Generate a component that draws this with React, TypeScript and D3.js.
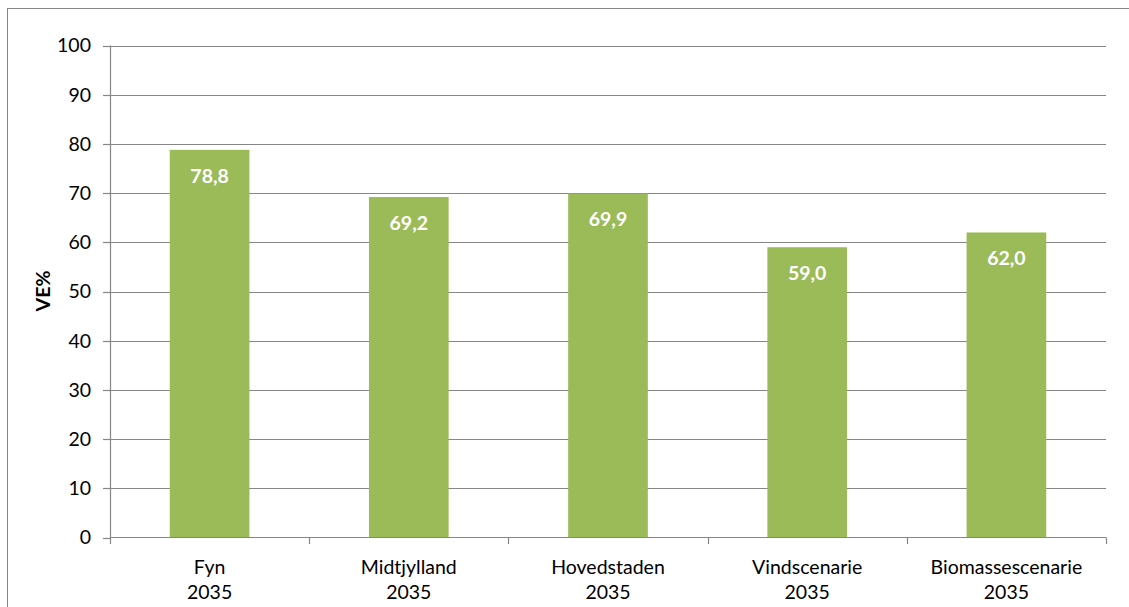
import React from "react";
import * as d3 from "d3";

const categories = ["Fyn|2035", "Midtjylland|2035", "Hovedstaden|2035", "Vindscenarie|2035", "Biomassescenarie|2035"];
const values = [78.8, 69.2, 69.9, 59.0, 62.0];
const yTicks = [0, 10, 20, 30, 40, 50, 60, 70, 80, 90, 100];
const yTitle = "VE%";

const W = 1129;
const H = 607;
const FONT = "Lato, 'Open Sans', sans-serif";

export default function App() {
  const x = d3.scaleBand<string>().domain(categories).range([110, 1106]).paddingInner(0.6).paddingOuter(0.3);
  const y = d3.scaleLinear().domain([0, 100]).range([537.5, 45.5]);
  const grid = "#868686";
  const fmt = (v: number) => v.toFixed(1).replace(".", ",");
  const step = x.step();
  const boundaries = d3.range(categories.length + 1).map((i) => 110 + i * step);
  return (
    <svg width={W} height={H} style={{ position: "absolute", left: 0, top: 0, background: "#fff" }} fontFamily={FONT}>
      <rect x={7.5} y={8.5} width={W + 10} height={H + 10} fill="#fff" stroke={grid} strokeWidth={1} />
      {yTicks.map((t) => (
        <g key={t}>
          {t > 0 && <line x1={110} x2={1106} y1={Math.round(y(t)) + 0.5} y2={Math.round(y(t)) + 0.5} stroke={grid} strokeWidth={1.2} />}
          <line x1={103} x2={110} y1={Math.round(y(t)) + 0.5} y2={Math.round(y(t)) + 0.5} stroke={grid} strokeWidth={1.2} />
          <text x={91} y={y(t)} dy="0.35em" textAnchor="end" fontSize={19.5} fill="#000">{t}</text>
        </g>
      ))}
      {categories.map((c, i) => (
        <g key={c}>
          <rect x={x(c)} y={y(values[i])} width={x.bandwidth()} height={y(0) - y(values[i])} fill="#9BBB59" />
          <text x={(x(c) ?? 0) + x.bandwidth() / 2} y={y(values[i]) + 26} dy="0.35em" textAnchor="middle" fontSize={19.5} fontWeight="bold" fill="#fff">{fmt(values[i])}</text>
          {c.split("|").map((ln, j) => (
            <text key={j} x={(x(c) ?? 0) + x.bandwidth() / 2} y={567 + j * 25} dy="0.35em" textAnchor="middle" fontSize={19.5} fill="#000">{ln}</text>
          ))}
        </g>
      ))}
      <line x1={110.5} x2={110.5} y1={45.5} y2={538} stroke={grid} strokeWidth={1.2} />
      <line x1={110} x2={1106} y1={537.5} y2={537.5} stroke={grid} strokeWidth={1.2} />
      {boundaries.map((b, i) => (
        <line key={i} x1={Math.round(b) + 0.5} x2={Math.round(b) + 0.5} y1={537.5} y2={544} stroke={grid} strokeWidth={1.2} />
      ))}
      <text transform="translate(43,291) rotate(-90)" dy="0.35em" textAnchor="middle" fontSize={19.5} fontWeight="bold" fill="#000">{yTitle}</text>
    </svg>
  );
}
